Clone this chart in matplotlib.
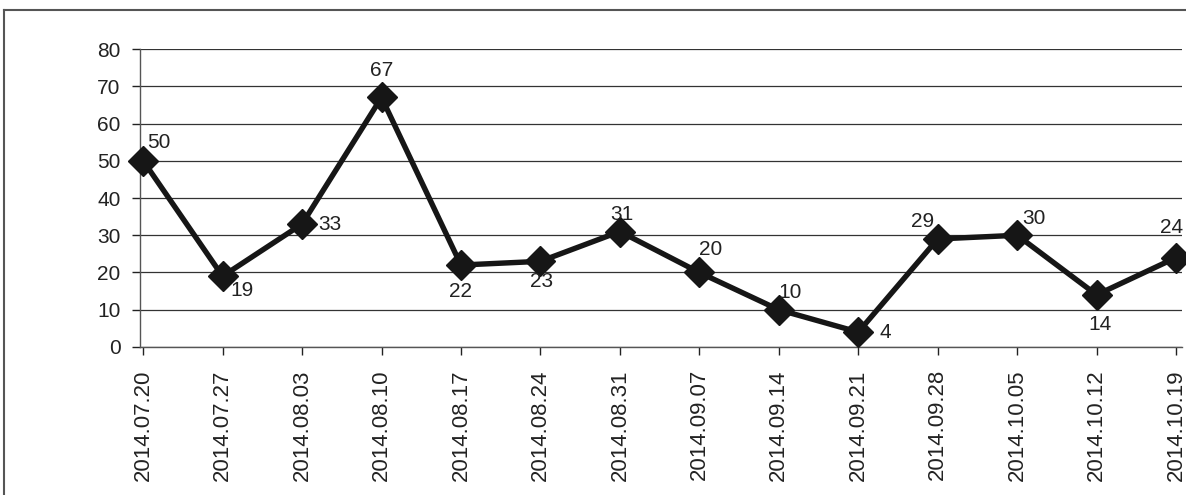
import matplotlib.pyplot as plt
from matplotlib.lines import Line2D

plt.rcParams['font.family'] = ['Liberation Sans', 'DejaVu Sans']

dates = ['2014.07.20', '2014.07.27', '2014.08.03', '2014.08.10', '2014.08.17',
         '2014.08.24', '2014.08.31', '2014.09.07', '2014.09.14', '2014.09.21',
         '2014.09.28', '2014.10.05', '2014.10.12', '2014.10.19']
values = [50, 19, 33, 67, 22, 23, 31, 20, 10, 4, 29, 30, 14, 24]

# label offsets in pixels from the marker centre (dx, dy, ha, va)
label_pos = [(4, 13, 'left', 'baseline'), (8, -5, 'left', 'top'), (16, 0, 'left', 'center'),
             (0, 21, 'center', 'baseline'), (0, -17, 'center', 'top'), (1, -11, 'center', 'top'),
             (2, 12, 'center', 'baseline'), (0, 17, 'left', 'baseline'), (0, 12, 'left', 'baseline'),
             (21, 0, 'left', 'center'), (-4, 12, 'right', 'baseline'), (5, 11, 'left', 'baseline'),
             (3, -20, 'center', 'top'), (7, 25, 'right', 'baseline')]

fig = plt.figure(figsize=(11.86, 4.95), dpi=100)
ax = fig.add_axes([0.118, 0.299, 0.879, 0.602])

x = list(range(len(values)))
ax.plot(x, values, color='#161616', lw=3.9, marker='D', ms=15, mfc='#161616', mec='#161616',
        clip_on=False, zorder=3)

for xi, v, (dx, dy, ha, va) in zip(x, values, label_pos):
    ax.annotate(str(v), (xi, v), xytext=(dx * 0.72, dy * 0.72), textcoords='offset points',
                ha=ha, va=va, fontsize=15, color='#222222')

ax.set_ylim(0, 80)
ax.set_yticks(range(0, 81, 10))
ax.set_xlim(-0.04, 13.08)
ax.set_xticks(x)
ax.set_xticklabels(dates, rotation=90, fontsize=16)
ax.tick_params(axis='y', labelsize=15, length=6, width=1, pad=8, colors='#222222')
ax.tick_params(axis='x', length=6, width=1, pad=10, colors='#222222')
ax.grid(axis='y', color='#333333', lw=0.9)
ax.set_axisbelow(True)
for s in ['top', 'right']:
    ax.spines[s].set_visible(False)
for s in ['left', 'bottom']:
    ax.spines[s].set_color('#555555')
    ax.spines[s].set_linewidth(1)

# outer frame
W, H = 1186, 495
fig.add_artist(Line2D([4 / W, 4 / W], [0, 1 - 10 / H], transform=fig.transFigure, color='#555555', lw=1.5))
fig.add_artist(Line2D([4 / W, 1], [1 - 10 / H, 1 - 10 / H], transform=fig.transFigure, color='#555555', lw=1.5))

fig.savefig('out.png', dpi=100)
